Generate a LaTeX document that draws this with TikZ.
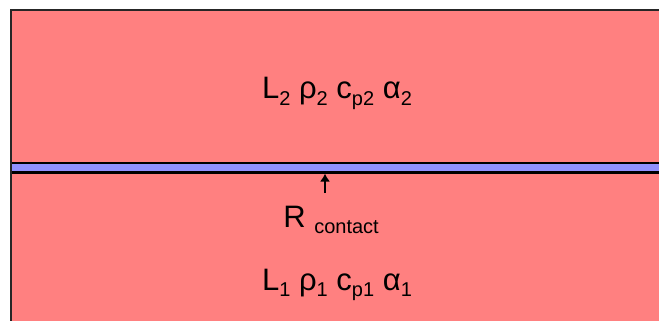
\documentclass[tikz,border=0pt]{standalone}
\usepackage{fontspec}
\setmainfont{Liberation Sans}
\usetikzlibrary{arrows.meta}
\definecolor{layerpink}{HTML}{FF8080}
\definecolor{bandblue}{HTML}{9191FF}
\newcommand{\sbs}[1]{\raisebox{-6.5pt}{\fontsize{20}{24}\selectfont #1}}
\tikzset{
  layer/.style={fill=layerpink, draw=black!85, line width=2.4pt},
  band/.style={fill=bandblue, draw=black, line width=2.2pt},
  label/.style={font=\fontsize{31}{36}\selectfont, inner sep=0pt, anchor=base},
  pointer/.style={-{Latex[length=8pt,width=10pt]}, line width=2pt}
}
\begin{document}
\begin{tikzpicture}[x=1pt,y=-1pt]
\useasboundingbox (0,0) rectangle (659,321);
\clip (0,0) rectangle (659,321);
\fill[white] (0,0) rectangle (659,321);
\draw[layer] (11,10) rectangle (700,360);
\draw[band] (11,163) rectangle (700,172.5);
\draw[black!85, line width=2.4pt] (11,10) -- (11,360);
\node[label] (top) at (337,99) {L\sbs{2} ρ\sbs{2} c\sbs{p2} α\sbs{2}};
\node[label] (bot) at (337,290) {L\sbs{1} ρ\sbs{1} c\sbs{p1} α\sbs{1}};
\node[label] (rc) at (331,227) {R \sbs{contact}};
\coordinate (tail) at (325,193);
\coordinate (tip) at (325,173.5);
\draw[pointer] (tail) -- (tip);
\end{tikzpicture}
\end{document}
